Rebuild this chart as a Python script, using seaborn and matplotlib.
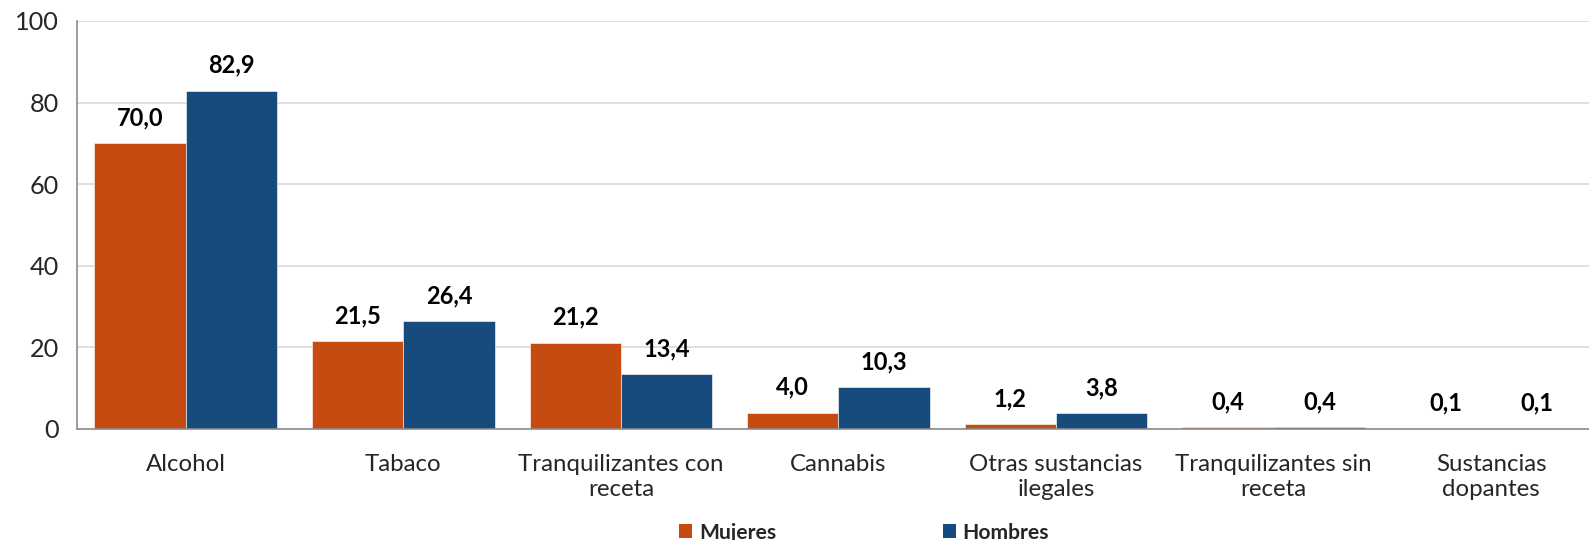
import matplotlib
matplotlib.use("Agg")
import matplotlib.pyplot as plt
import numpy as np
import pandas as pd
import seaborn as sns
from matplotlib.patches import Patch

categorias = [
    "Alcohol",
    "Tabaco",
    "Tranquilizantes con\nreceta",
    "Cannabis",
    "Otras sustancias\nilegales",
    "Tranquilizantes sin\nreceta",
    "Sustancias\ndopantes",
]
mujeres = [70.0, 21.5, 21.2, 4.0, 1.2, 0.4, 0.1]
hombres = [82.9, 26.4, 13.4, 10.3, 3.8, 0.4, 0.1]
series = ["Mujeres", "Hombres"]
colores = ["#C54B11", "#174B7E"]

df = pd.DataFrame({
    "categoria": categorias * 2,
    "sexo": ["Mujeres"] * len(categorias) + ["Hombres"] * len(categorias),
    "valor": mujeres + hombres,
})

sns.set_theme(style="white")
plt.rcParams["font.family"] = ["Lato", "DejaVu Sans"]

W, H = 1589, 540
fig = plt.figure(figsize=(W / 100, H / 100), dpi=100)
ax = fig.add_axes([77 / W, 111 / H, 1523 / W, 408 / H])

sns.barplot(
    data=df, x="categoria", y="valor", hue="sexo",
    order=categorias, hue_order=series, palette=colores,
    width=0.84, ax=ax, legend=False, errorbar=None,
    edgecolor="white", linewidth=0.4, saturation=1,
)

for cont in ax.containers:
    ax.bar_label(cont, labels=[f"{v:.1f}".replace(".", ",") for v in cont.datavalues],
                 padding=10, fontsize=17, fontweight="bold", color="black")

ax.set_xlim(-0.5, len(categorias) - 0.5)
ax.set_ylim(0, 100)
ax.set_yticks(np.arange(0, 101, 20))
ax.yaxis.grid(True, color="#D9D9D9", linewidth=1.2)
ax.set_axisbelow(True)
ax.set_xlabel("")
ax.set_ylabel("")

ax.set_xticks(np.arange(len(categorias)))
ax.set_xticklabels(categorias, fontsize=17.3, linespacing=1.22)
ax.set_xticks(np.arange(len(categorias) + 1) - 0.5, minor=True)
ax.tick_params(axis="x", which="major", length=0, pad=18)
ax.tick_params(axis="x", which="minor", length=7, width=1.2, color="#8C8C8C", direction="out")
ax.tick_params(axis="y", length=8, width=1.2, color="#8C8C8C", direction="out", labelsize=18.2, pad=5)

for s in ["top", "right"]:
    ax.spines[s].set_visible(False)
for s in ["left", "bottom"]:
    ax.spines[s].set_color("#8C8C8C")
    ax.spines[s].set_linewidth(1.2)

handles = [Patch(facecolor=c, edgecolor="none") for c in colores]
fig.legend(handles, series, loc="lower center", bbox_to_anchor=(864 / W, -0.04),
           ncol=2, frameon=False, handlelength=0.62, handleheight=0.62,
           handletextpad=0.3, columnspacing=7.9,
           prop={"weight": "bold", "size": 15.2})

fig.savefig("out.png", dpi=100)
